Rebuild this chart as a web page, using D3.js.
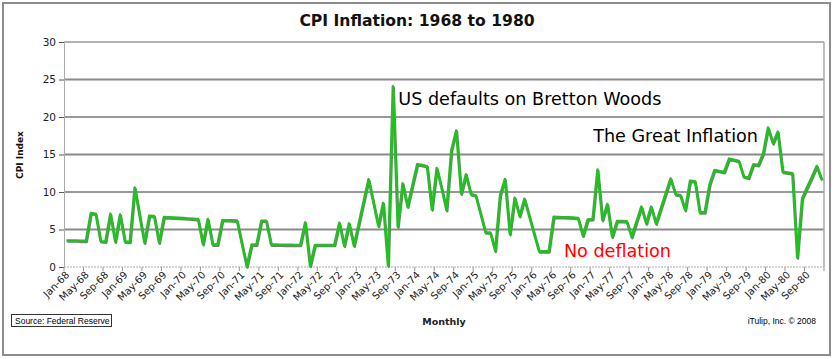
<!DOCTYPE html>
<html><head><meta charset="utf-8">
<script src="https://cdn.jsdelivr.net/npm/d3@7"></script>
<style>html,body{margin:0;padding:0;background:#fff;} svg{display:block;}</style>
</head><body>
<svg id="chart" width="834" height="359"></svg>
<script>
// ---- data ----
const monthNames = ["Jan","Feb","Mar","Apr","May","Jun","Jul","Aug","Sep","Oct","Nov","Dec"];
const years = [68,69,70,71,72,73,74,75,76,77,78,79,80];
const categories = [];
years.forEach(y => monthNames.forEach(m => categories.push(m + "-" + y)));
const cpi = [
  3.55,3.55,3.55,3.5,3.5, 7.2,7.1,3.45,3.4,7.1,3.4,7.0,          // 1968
  3.4,3.35,10.6,6.9,3.25,6.85,6.8,3.25,6.67,6.63,6.6,6.56,       // 1969
  6.52,6.48,6.44,6.4,3.07,6.4,3.0,3.0,6.27,6.25,6.22,6.2,        // 1970
  3.1,0.1,3.0,3.0,6.18,6.18,3.0,3.0,2.98,2.97,2.96,2.95,         // 1971
  2.95,5.95,0.15,2.95,2.95,2.95,2.95,2.95,5.9,2.85,5.82,2.85,    // 1972
  5.8,8.75,11.7,8.6,5.5,8.55,0.2,24.1,5.4,11.15,8.05,10.9,       // 1973
  13.7,13.6,13.45,7.7,13.2,10.5,7.6,15.6,18.2,9.8,12.35,9.73,    // 1974
  9.55,7.1,4.62,4.6,2.18,9.6,11.73,4.4,9.25,6.8,9.1,6.75,        // 1975
  4.4,2.1,2.1,2.1,6.7,6.67,6.65,6.62,6.6,6.55,4.18,6.35,         // 1976
  6.4,13.0,6.27,8.4,4.05,6.13,6.12,6.1,4.0,6.05,8.05,5.82,       // 1977
  8.05,5.8,7.8,9.8,11.8,9.7,9.6,7.6,11.5,11.45,7.3,7.3,          // 1978
  11.0,12.93,12.8,12.67,14.45,14.3,14.13,12.05,11.9,13.7,13.6,15.15, // 1979
  18.6,16.5,18.05,12.7,12.6,12.5,1.29,9.15,10.6,12.0,13.47,11.7  // 1980
];
const yTicks = [0,5,10,15,20,25,30];
const xTickLabels = ["Jan-68","May-68","Sep-68","Jan-69","May-69","Sep-69","Jan-70","May-70","Sep-70",
  "Jan-71","May-71","Sep-71","Jan-72","May-72","Sep-72","Jan-73","May-73","Sep-73","Jan-74","May-74","Sep-74",
  "Jan-75","May-75","Sep-75","Jan-76","May-76","Sep-76","Jan-77","May-77","Sep-77","Jan-78","May-78","Sep-78",
  "Jan-79","May-79","Sep-79","Jan-80","May-80","Sep-80"];
const annotations = [
  {text:"US defaults on Bretton Woods", cat:"Sep-73", v:21.6, color:"#000"},
  {text:"The Great Inflation", cat:"Jan-77", v:16.7, color:"#000"},
  {text:"No deflation", cat:"Jul-76", v:1.35, color:"#ff0000"}
];

// ---- layout ----
const svg = d3.select("#chart");
const L = 64, R = 824, T = 42, B = 267;
const x = d3.scaleBand().domain(categories).range([L, R]).padding(0);
const y = d3.scaleLinear().domain([0, 30]).range([B, T]);
const font = "DejaVu Sans, Verdana, sans-serif";

// outer frame
svg.append("rect").attr("x",3).attr("y",3).attr("width",827).attr("height",352)
  .attr("fill","#fff").attr("stroke","#8c8c8c").attr("stroke-width",2);

// title
svg.append("text").attr("x",417).attr("y",26).attr("text-anchor","middle")
  .attr("font-family",font).attr("font-weight","bold").attr("font-size",15.6)
  .attr("fill","#111").text("CPI Inflation: 1968 to 1980");

// gridlines
svg.append("g").selectAll("line").data(yTicks.filter(d => d > 0 && d < 30)).join("line")
  .attr("x1",L).attr("x2",R).attr("y1",d=>y(d)).attr("y2",d=>y(d))
  .attr("stroke",d => d % 10 === 0 ? "#333" : "#8a8a8a")
  .attr("stroke-width",d => d % 10 === 0 ? 1 : 2);

// plot border
svg.append("line").attr("x1",L).attr("x2",R).attr("y1",T).attr("y2",T).attr("stroke","#999").attr("stroke-width",1.5);
svg.append("line").attr("x1",R).attr("x2",R).attr("y1",T).attr("y2",B).attr("stroke","#aaa").attr("stroke-width",1.5);

// y axis
const yAxis = d3.axisLeft(y).tickValues(yTicks).tickSize(5).tickPadding(3);
const gy = svg.append("g").attr("transform",`translate(${L},0)`).call(yAxis);
gy.select(".domain").attr("stroke","#aaa");
gy.selectAll(".tick line").attr("stroke","#555");
gy.selectAll(".tick text").attr("font-family",font).attr("font-size",10.5).attr("fill","#222");

// x axis
const tickCats = categories.filter((c,i) => i % 4 === 0);
const gx = svg.append("g");
gx.append("line").attr("x1",L).attr("x2",R).attr("y1",B).attr("y2",B)
  .attr("stroke","#aaa").attr("stroke-dasharray","2,1");
gx.selectAll("line.tk").data(tickCats.concat(["__end"])).join("line").attr("class","tk")
  .attr("x1",d => d==="__end" ? R : x(d)).attr("x2",d => d==="__end" ? R : x(d))
  .attr("y1",B).attr("y2",B+4).attr("stroke","#999");
gx.selectAll("text").data(xTickLabels).join("text")
  .attr("transform",d => `translate(${x(d)+x.bandwidth()/2+1},${B+6}) rotate(-45)`)
  .attr("text-anchor","end").attr("dy","0.35em")
  .attr("font-family",font).attr("font-size",10).attr("fill","#222").text(d=>d);

// axis titles
svg.append("text").attr("transform",`translate(23,155) rotate(-90)`).attr("text-anchor","middle")
  .attr("font-family",font).attr("font-weight","bold").attr("font-size",9).attr("fill","#111").text("CPI Index");
svg.append("text").attr("x",444).attr("y",325).attr("text-anchor","middle")
  .attr("font-family",font).attr("font-weight","bold").attr("font-size",9.5).attr("fill","#222").text("Monthly");

// source box
svg.append("rect").attr("x",11.5).attr("y",314.5).attr("width",100).attr("height",12)
  .attr("fill","#fff").attr("stroke","#333").attr("stroke-width",1);
svg.append("text").attr("x",15).attr("y",324).attr("font-family","Liberation Sans, Arial, sans-serif")
  .attr("font-size",8.5).attr("fill","#000").text("Source:  Federal Reserve");
svg.append("text").attr("x",816).attr("y",324).attr("text-anchor","end").attr("font-family","Liberation Sans, Arial, sans-serif")
  .attr("font-size",8.5).attr("fill","#000").text("iTulip, Inc. © 2008");

// line
const line = d3.line().x((d,i) => x(categories[i]) + x.bandwidth()/2).y(d => y(d));
svg.append("path").datum(cpi).attr("d",line).attr("fill","none")
  .attr("stroke","#7a7a7a").attr("stroke-width",2.5).attr("stroke-linejoin","round")
  .attr("transform","translate(0.8,1.2)");
svg.append("path").datum(cpi).attr("d",line).attr("fill","none")
  .attr("stroke","#1cc41c").attr("stroke-width",2.5).attr("stroke-linejoin","round");

// annotations
svg.append("g").selectAll("text").data(annotations).join("text")
  .attr("x",d => x(d.cat) + 3).attr("y",d => y(d.v))
  .attr("font-family",font).attr("font-size",17.6).attr("fill",d=>d.color).text(d=>d.text);
</script>
</body></html>
